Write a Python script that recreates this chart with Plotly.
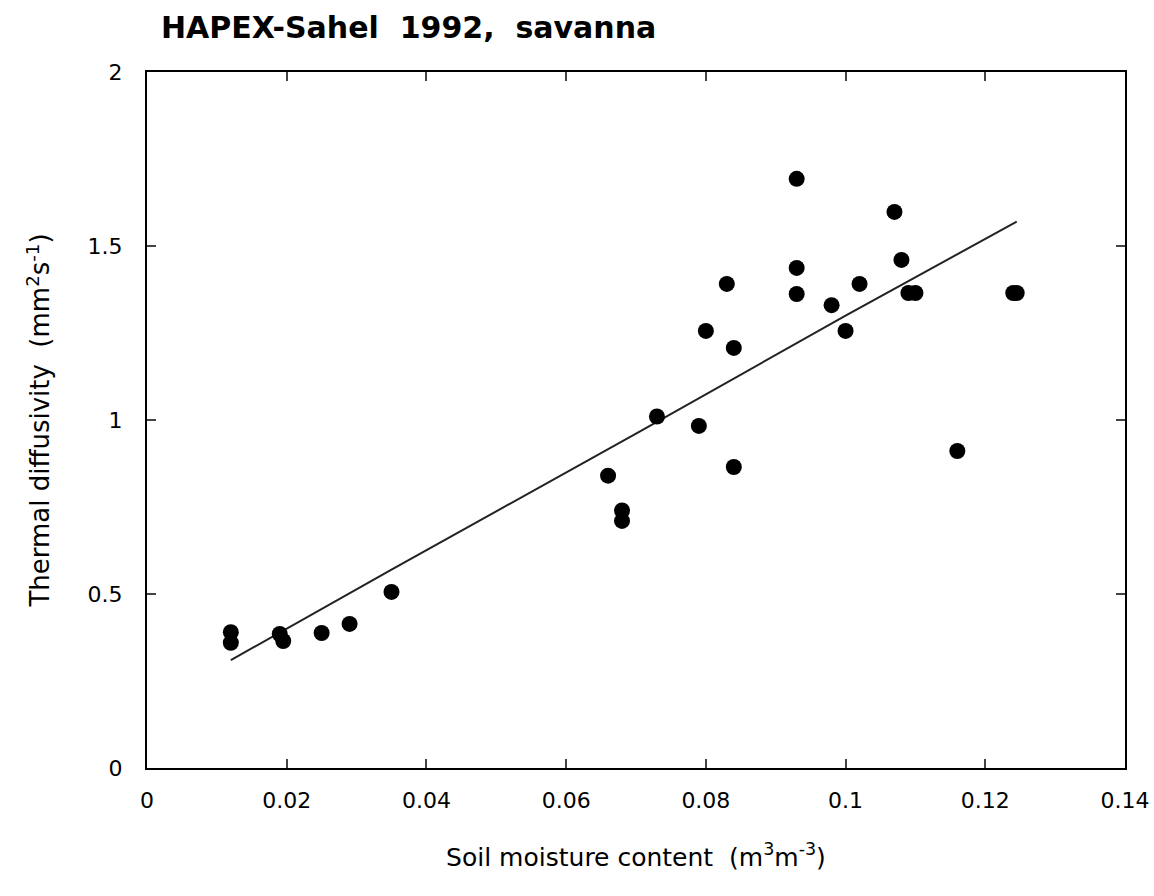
import plotly.graph_objects as go

# Observed data (soil moisture m3/m3, thermal diffusivity mm2/s)
soil_moisture = [0.012, 0.012, 0.019, 0.0195, 0.025, 0.029, 0.035,
                 0.066, 0.068, 0.068, 0.073, 0.079, 0.080, 0.083, 0.084, 0.084,
                 0.093, 0.093, 0.093, 0.098, 0.100, 0.102, 0.107, 0.108,
                 0.109, 0.110, 0.116, 0.124, 0.1245]
diffusivity = [0.39, 0.36, 0.385, 0.365, 0.388, 0.414, 0.506,
               0.84, 0.74, 0.71, 1.01, 0.983, 1.256, 1.391, 1.207, 0.865,
               1.693, 1.437, 1.362, 1.330, 1.256, 1.391, 1.598, 1.460,
               1.365, 1.365, 0.911, 1.365, 1.365]

# Fitted line
fit_x = [0.012, 0.035, 0.0709, 0.100, 0.1245]
fit_y = [0.31, 0.57, 0.971, 1.30, 1.57]

x_ticks = [0, 0.02, 0.04, 0.06, 0.08, 0.1, 0.12, 0.14]
x_ticklabels = ["0", "0.02", "0.04", "0.06", "0.08", "0.1", "0.12", "0.14"]
y_ticks = [0, 0.5, 1, 1.5, 2]
y_ticklabels = ["0", "0.5", "1", "1.5", "2"]

FONT = "DejaVu Sans, Liberation Sans, sans-serif"

fig = go.Figure()
fig.add_trace(go.Scatter(x=fit_x, y=fit_y, mode="lines",
                         line=dict(color="#222222", width=2),
                         showlegend=False, hoverinfo="skip"))
fig.add_trace(go.Scatter(x=soil_moisture, y=diffusivity, mode="markers",
                         marker=dict(color="black", size=16, line=dict(width=0)),
                         showlegend=False))

axis_common = dict(showgrid=False, zeroline=False, showline=True,
                   linecolor="black", linewidth=2, mirror="ticks",
                   ticks="inside", ticklen=9, tickwidth=1.5, tickcolor="#444",
                   automargin=False,
                   tickfont=dict(family=FONT, size=22, color="black"))

fig.update_xaxes(range=[0, 0.14], tickvals=x_ticks, ticktext=x_ticklabels,
                 ticklabelstandoff=12,
                 title=dict(text="Soil moisture content  (m<sup>3</sup>m<sup>-3</sup>)",
                            font=dict(family=FONT, size=25, color="black"),
                            standoff=36),
                 **axis_common)
fig.update_yaxes(range=[0, 2], tickvals=y_ticks, ticktext=y_ticklabels,
                 ticklabelstandoff=18,
                 title=dict(text="Thermal diffusivity  (mm<sup>2</sup>s<sup>-1</sup>)",
                            font=dict(family=FONT, size=26, color="black"),
                            standoff=30),
                 **axis_common)

fig.update_layout(
    width=1154, height=896,
    margin=dict(l=147, r=29, t=72, b=128, autoexpand=False),
    paper_bgcolor="white", plot_bgcolor="white",
    title=dict(text="<b>HAPEX-Sahel  1992,  savanna</b>",
               font=dict(family=FONT, size=30, color="black"),
               x=161 / 1154, xanchor="left", y=1 - 27 / 896, yanchor="middle"),
)

fig.write_html("out.html")
